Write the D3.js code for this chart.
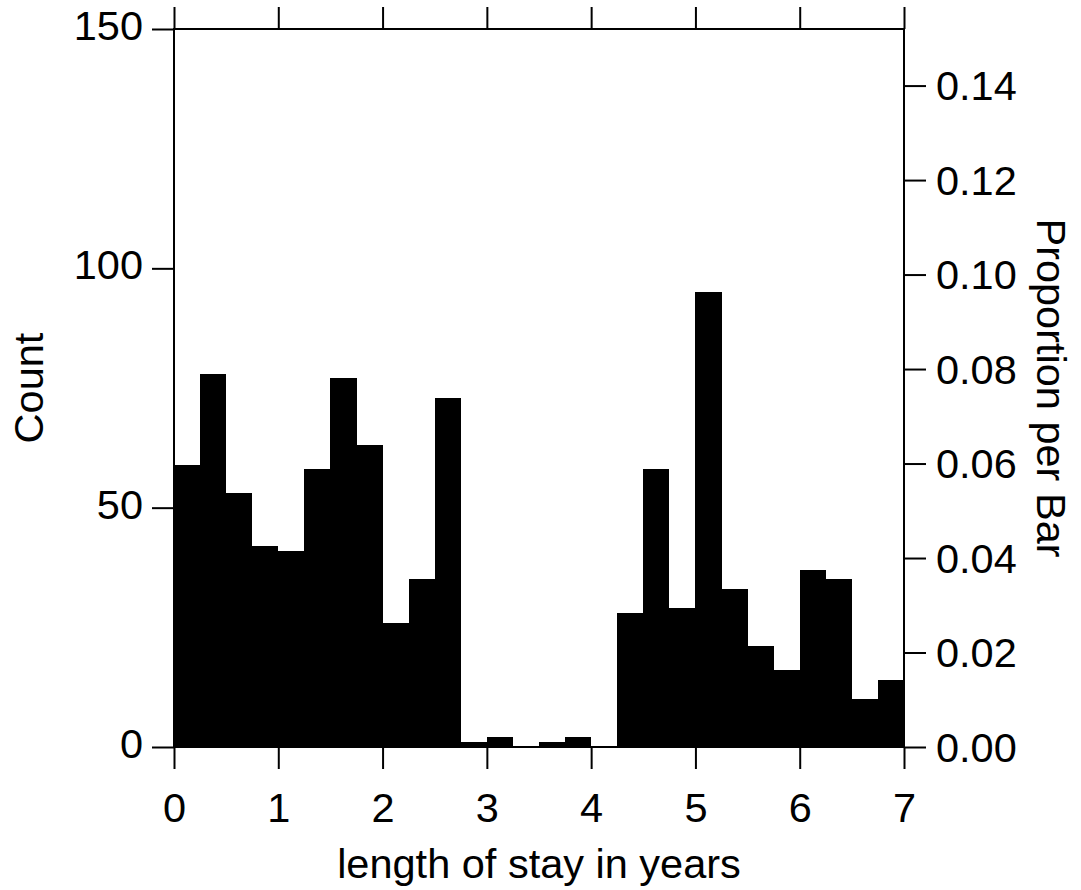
<!DOCTYPE html>
<html>
<head>
<meta charset="utf-8">
<script src="https://cdn.jsdelivr.net/npm/d3@7"></script>
<style>
  body { margin: 0; background: #fff; }
  text { font-family: "Liberation Sans", Arial, sans-serif; fill: #000; }
</style>
</head>
<body>
<div id="chart-container"></div>
<script>
// bin lower edges (years) and counts per bin
const binStarts = [0, 0.25, 0.5, 0.75, 1, 1.25, 1.5, 1.75, 2, 2.25, 2.5, 2.75, 3, 3.25,
  3.5, 3.75, 4, 4.25, 4.5, 4.75, 5, 5.25, 5.5, 5.75, 6, 6.25, 6.5, 6.75];
const binWidth = 0.25;
const counts = [59, 78, 53, 42, 41, 58, 77, 63, 26, 35, 73, 1, 2, 0,
  1, 2, 0, 28, 58, 29, 95, 33, 21, 16, 37, 35, 10, 14];
const xTicks = [0, 1, 2, 3, 4, 5, 6, 7];
const countTicks = [0, 50, 100, 150];
const propTicks = [0, 0.02, 0.04, 0.06, 0.08, 0.1, 0.12, 0.14];

const width = 1081;
const height = 890;
const margins = { top: 29, right: 177, bottom: 143, left: 174 };
const fontSize = 41.5;
const tickLen = 22;

const total = d3.sum(counts);

const xScale = d3
  .scaleLinear()
  .domain([0, 7])
  .range([margins.left, width - margins.right]);

const yScale = d3
  .scaleLinear()
  .domain([0, 150])
  .range([height - margins.bottom, margins.top]);

// right axis is the same scale expressed as a share of all cases
const pScale = d3
  .scaleLinear()
  .domain([0, 150 / total])
  .range(yScale.range());

const svg = d3
  .select("#chart-container")
  .append("svg")
  .attr("width", width)
  .attr("height", height);

svg
  .append("g")
  .selectAll("rect")
  .data(counts)
  .enter()
  .append("rect")
  .attr("x", (d, i) => xScale(binStarts[i]))
  .attr("width", (d, i) => xScale(binStarts[i] + binWidth) - xScale(binStarts[i]))
  .attr("y", d => yScale(d))
  .attr("height", d => yScale(0) - yScale(d))
  .attr("fill", "#000")
  .attr("shape-rendering", "crispEdges");

const styleAxis = g => {
  g.select(".domain").remove();
  g.selectAll("line").attr("stroke", "#000").attr("stroke-width", 2);
  g.selectAll("text").attr("font-size", fontSize).attr("font-family", null).attr("fill", "#000");
};

svg
  .append("g")
  .attr("transform", `translate(${margins.left}, 0)`)
  .call(d3.axisLeft(yScale).tickValues(countTicks).tickSize(tickLen).tickPadding(9).tickFormat(d3.format("d")))
  .call(styleAxis)
  .selectAll("text")
  .attr("dy", "0.25em");

svg
  .append("g")
  .attr("transform", `translate(${width - margins.right}, 0)`)
  .call(d3.axisRight(pScale).tickValues(propTicks).tickSize(tickLen).tickPadding(10).tickFormat(d3.format(".2f")))
  .call(styleAxis)
  .selectAll("text")
  .attr("dy", "0.34em");

svg
  .append("g")
  .attr("transform", `translate(0, ${height - margins.bottom})`)
  .call(d3.axisBottom(xScale).tickValues(xTicks).tickSize(tickLen).tickPadding(24).tickFormat(d3.format("d")))
  .call(styleAxis);

svg
  .append("g")
  .attr("transform", `translate(0, ${margins.top})`)
  .call(d3.axisTop(xScale).tickValues(xTicks).tickSize(tickLen).tickFormat(""))
  .call(styleAxis);

// frame
svg
  .append("rect")
  .attr("x", xScale(0))
  .attr("y", yScale(150))
  .attr("width", xScale(7) - xScale(0))
  .attr("height", yScale(0) - yScale(150))
  .attr("fill", "none")
  .attr("stroke", "#000")
  .attr("stroke-width", 2);

svg
  .append("text")
  .text("length of stay in years")
  .attr("x", (xScale(0) + xScale(7)) / 2)
  .attr("y", 878)
  .attr("text-anchor", "middle")
  .attr("font-size", fontSize);

svg
  .append("text")
  .text("Count")
  .attr("transform", `translate(43, ${(yScale(0) + yScale(150)) / 2}) rotate(-90)`)
  .attr("text-anchor", "middle")
  .attr("font-size", fontSize);

svg
  .append("text")
  .text("Proportion per Bar")
  .attr("transform", `translate(1037, ${(yScale(0) + yScale(150)) / 2}) rotate(90)`)
  .attr("text-anchor", "middle")
  .attr("font-size", fontSize);
</script>
</body>
</html>
